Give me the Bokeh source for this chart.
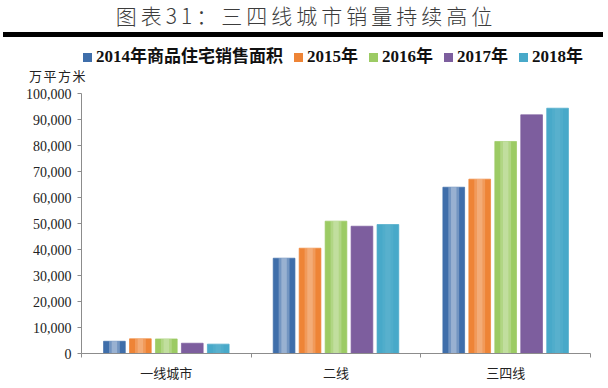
from bokeh.plotting import figure
from bokeh.layouts import column
from bokeh.models import (ColumnDataSource, Div, FixedTicker, NumeralTickFormatter, Range1d)
from bokeh.embed import file_html
from bokeh.resources import INLINE

categories = ["一线城市", "二线", "三四线"]
series_names = ["2014年商品住宅销售面积", "2015年", "2016年", "2017年", "2018年"]
v2014 = [4700, 36650, 63950]
v2015 = [5650, 40500, 67050]
v2016 = [5600, 50900, 81550]
v2017 = [3950, 48950, 91800]
v2018 = [3600, 49600, 94350]
y_ticks = [0, 10000, 20000, 30000, 40000, 50000, 60000, 70000, 80000, 90000, 100000]
title_text = "图表31：三四线城市销量持续高位"
unit_text = "万平方米"

series = [v2014, v2015, v2016, v2017, v2018]
colors = ["#3F6EAA", "#EE8436", "#9CCB64", "#7D5E9E", "#48A9C9"]
highlight_alpha = [0.45, 0.3, 0.35, 0.0, 0.08]
offsets = [-0.306, -0.153, 0.0, 0.153, 0.306]
bar_w = 0.128

W = 608
TOP_H = 86
MAIN_H = 388 - TOP_H

# ---------- header (title, rule, legend, unit) ----------
legend_html = "".join(
    f'<span style="display:inline-block;width:9px;height:9px;background:{c};'
    f'margin-right:4px;"></span><span style="margin-right:11px;">{n}</span>'
    for n, c in zip(series_names, colors))

header_html = f"""
<div style="position:relative;width:{W}px;height:{TOP_H}px;">
  <div style="position:absolute;left:0;top:1px;width:612px;text-align:center;line-height:28px;
       font-family:'Noto Sans CJK SC';font-size:21px;font-weight:300;letter-spacing:4px;color:#3c3c3c;
       white-space:nowrap;">{title_text}</div>
  <div style="position:absolute;left:3px;top:32px;width:600px;height:4.5px;background:#000000;"></div>
  <div style="position:absolute;left:83px;top:47px;height:20px;display:flex;align-items:center;
       white-space:nowrap;font-family:'Liberation Serif','Noto Sans CJK SC';font-weight:bold;
       font-size:17px;color:#111111;line-height:20px;">{legend_html}</div>
  <div style="position:absolute;left:29px;top:68px;line-height:16px;white-space:nowrap;
       font-family:'Noto Sans CJK SC';font-size:13px;letter-spacing:1.5px;color:#222222;">{unit_text}</div>
</div>
"""
head = Div(text=header_html, width=W, height=TOP_H, margin=0)

# ---------- main chart ----------
p = figure(width=W, height=MAIN_H, output_backend="svg", toolbar_location=None,
           x_range=Range1d(0, 3), y_range=Range1d(0, 100000),
           min_border_left=81, min_border_right=18, min_border_top=93 - TOP_H,
           min_border_bottom=388 - 353, margin=0)
p.outline_line_color = None
p.xgrid.visible = False
p.ygrid.visible = False

for vals, col, off, ha in zip(series, colors, offsets, highlight_alpha):
    xs = [i + 0.5 + off for i in range(len(categories))]
    src = ColumnDataSource(dict(x=xs, top=vals))
    p.vbar(x="x", top="top", width=bar_w, bottom=0, source=src,
           fill_color=col, line_color=col, line_alpha=0.7)
    if ha > 0:
        # cylindrical sheen of the original bars
        p.vbar(x="x", top="top", width=bar_w * 0.5, bottom=0, source=src,
               fill_color="white", fill_alpha=ha * 0.6, line_color=None)
        p.vbar(x="x", top="top", width=bar_w * 0.25, bottom=0, source=src,
               fill_color="white", fill_alpha=ha * 0.6, line_color=None)

p.yaxis.ticker = FixedTicker(ticks=y_ticks)
p.yaxis.formatter = NumeralTickFormatter(format="0,0")
p.yaxis.axis_line_color = "#8c8c8c"
p.yaxis.major_tick_line_color = "#8c8c8c"
p.yaxis.major_tick_out = 4
p.yaxis.major_tick_in = 0
p.yaxis.minor_tick_line_color = None
p.yaxis.major_label_text_font = "Liberation Serif"
p.yaxis.major_label_text_font_size = "14px"
p.yaxis.major_label_text_color = "#222222"
p.yaxis.major_label_standoff = 6

p.xaxis.ticker = FixedTicker(ticks=[0.5, 1.5, 2.5], minor_ticks=[0, 1, 2, 3])
p.xaxis.major_label_overrides = {0.5: categories[0], 1.5: categories[1], 2.5: categories[2]}
p.xaxis.axis_line_color = "#8c8c8c"
p.xaxis.major_tick_line_color = None
p.xaxis.minor_tick_line_color = "#8c8c8c"
p.xaxis.minor_tick_out = 4
p.xaxis.minor_tick_in = 0
p.xaxis.major_label_text_font = "Noto Sans CJK SC"
p.xaxis.major_label_text_font_size = "13px"
p.xaxis.major_label_text_color = "#222222"
p.xaxis.major_label_standoff = 3

layout = column(head, p, spacing=0)
open("out.html", "w").write(file_html(layout, INLINE))
